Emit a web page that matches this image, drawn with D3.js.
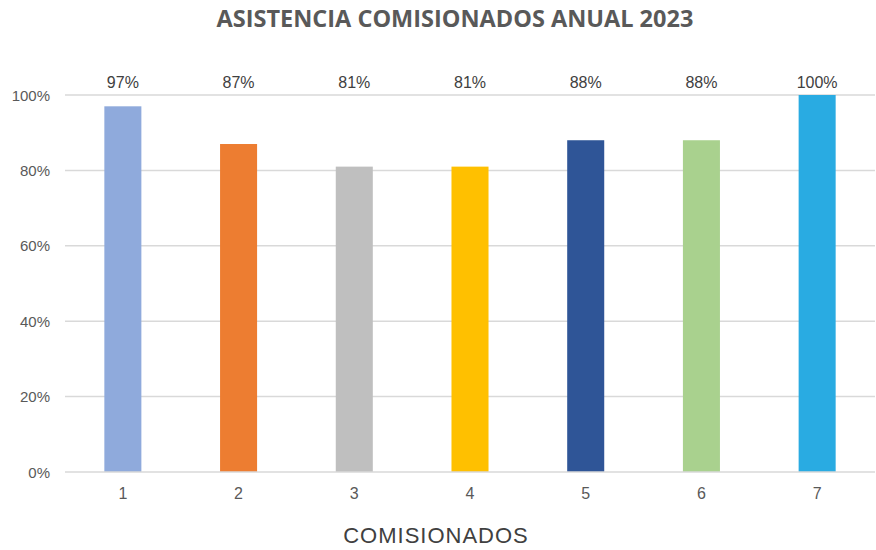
<!DOCTYPE html>
<html><head><meta charset="utf-8">
<script src="https://cdn.jsdelivr.net/npm/d3@7"></script>
<style>body{margin:0;background:#fff}svg{display:block}</style>
</head><body><svg id="c" width="876" height="550"></svg>
<script>
const categories = ["1","2","3","4","5","6","7"];
const values = [0.97, 0.87, 0.81, 0.81, 0.88, 0.88, 1.00];
const valueLabels = ["97%","87%","81%","81%","88%","88%","100%"];
const colors = ["#8FAADC","#ED7D31","#BFBFBF","#FFC000","#2F5597","#A9D18E","#29ABE2"];
const yTicks = [0,0.2,0.4,0.6,0.8,1.0];
const title = "ASISTENCIA COMISIONADOS ANUAL 2023";
const xTitle = "COMISIONADOS";

const svg = d3.select("#c");
const mLeft = 65, mRight = 875, mTop = 95, mBottom = 472;
const x = d3.scaleBand().domain(categories).range([mLeft, mRight]).paddingInner(0.68).paddingOuter(0.34);
const y = d3.scaleLinear().domain([0,1]).range([mBottom, mTop]);

svg.append("text").attr("x", 455).attr("y", 27).attr("text-anchor","middle")
  .attr("font-family","'Open Sans', sans-serif").attr("font-weight","bold").attr("font-size",23.5)
  .attr("fill","#595959").text(title);

svg.append("g").selectAll("line").data(yTicks.filter(d=>d>0)).join("line")
  .attr("x1",mLeft).attr("x2",mRight).attr("y1",d=>y(d)).attr("y2",d=>y(d))
  .attr("stroke","#D9D9D9").attr("stroke-width",1.5);

svg.append("g").selectAll("text").data(yTicks).join("text")
  .attr("x",50).attr("y",d=>y(d)+5.5).attr("text-anchor","end")
  .attr("font-family","'Liberation Sans', Arial, sans-serif").attr("font-size",15).attr("fill","#595959")
  .text(d=>d3.format(".0%")(d));

svg.append("g").selectAll("rect").data(values).join("rect")
  .attr("x",(d,i)=>x(categories[i])).attr("width",x.bandwidth())
  .attr("y",d=>y(d)).attr("height",d=>y(0)-y(d)).attr("fill",(d,i)=>colors[i]);

svg.append("line").attr("x1",mLeft).attr("x2",mRight).attr("y1",y(0)).attr("y2",y(0))
  .attr("stroke","#D9D9D9").attr("stroke-width",1.5);

svg.append("g").selectAll("text").data(valueLabels).join("text")
  .attr("x",(d,i)=>x(categories[i])+x.bandwidth()/2).attr("y",88).attr("text-anchor","middle")
  .attr("font-family","'Liberation Sans', Arial, sans-serif").attr("font-size",16).attr("fill","#404040")
  .text(d=>d);

svg.append("g").selectAll("text").data(categories).join("text")
  .attr("x",d=>x(d)+x.bandwidth()/2).attr("y",499).attr("text-anchor","middle")
  .attr("font-family","'Liberation Sans', Arial, sans-serif").attr("font-size",16).attr("fill","#595959")
  .text(d=>d);

svg.append("text").attr("x",436).attr("y",543).attr("text-anchor","middle")
  .attr("font-family","'Liberation Sans', Arial, sans-serif").attr("font-size",22).attr("letter-spacing",1)
  .attr("fill","#404040").text(xTitle);
</script></body></html>
